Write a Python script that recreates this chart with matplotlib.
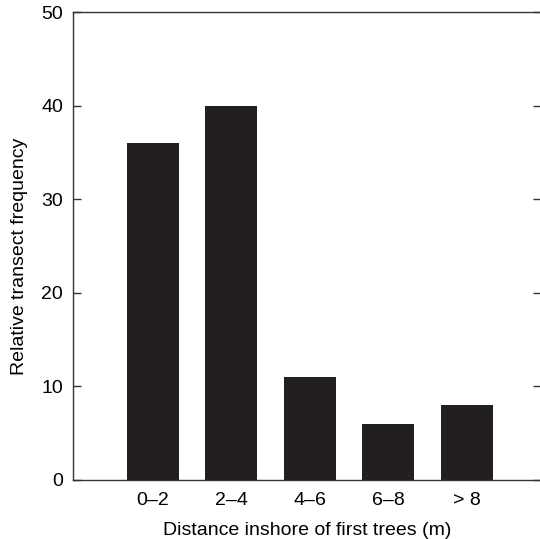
import matplotlib
matplotlib.use('Agg')
import matplotlib.pyplot as plt
import numpy as np

plt.rcParams['font.family'] = ['Liberation Sans', 'DejaVu Sans']

categories = ['0\u20132', '2\u20134', '4\u20136', '6\u20138', '> 8']
freq = [36, 40, 11, 6, 8]
yticks = [0, 10, 20, 30, 40, 50]

fig = plt.figure(figsize=(5.4, 5.39), dpi=100)
ax = fig.add_axes([0.135, 0.1095, 0.866, 0.868])

x = np.arange(len(categories))
ax.bar(x, freq, width=0.665, color='#231f20', edgecolor='none')

ax.set_xlim(-1.02, 4.94)
ax.set_ylim(0, 50)
ax.set_xticks(x)
ax.set_xticklabels(categories, fontsize=14)
ax.set_yticks(yticks)
ax.set_yticklabels([str(v) for v in yticks], fontsize=14)

ax.tick_params(axis='x', length=0, pad=9)
ax.tick_params(axis='y', direction='in', length=6, width=1, color='#333333',
               right=True, pad=7)
ax.spines['right'].set_visible(False)
for s in ['left', 'top', 'bottom']:
    ax.spines[s].set_linewidth(1)
    ax.spines[s].set_color('#333333')

ax.set_xlabel('Distance inshore of first trees (m)', fontsize=14, labelpad=9)
ax.set_ylabel('Relative transect frequency', fontsize=14)
ax.yaxis.set_label_coords(-0.095, 0.479)

fig.savefig('out.png', dpi=100)
